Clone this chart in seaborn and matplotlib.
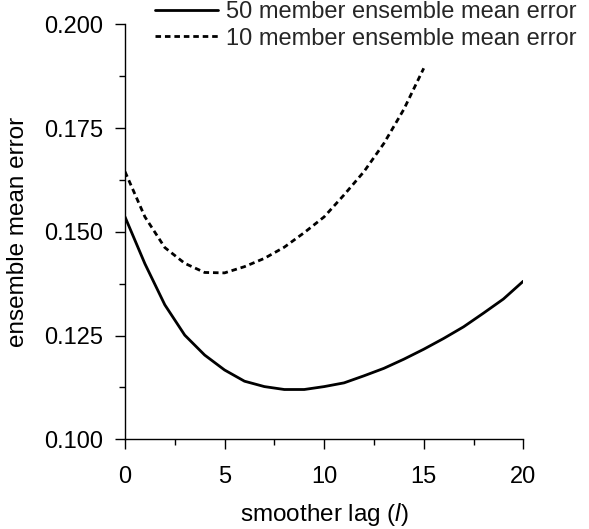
import matplotlib
matplotlib.use("Agg")
import matplotlib.pyplot as plt
import seaborn as sns
import pandas as pd
import numpy as np

# Data
lag50 = list(range(0, 21))
err50 = [0.1536, 0.1423, 0.1324, 0.1251, 0.1203, 0.1167, 0.1140, 0.1127, 0.1120, 0.1120,
         0.1127, 0.1136, 0.1153, 0.1171, 0.1193, 0.1217, 0.1243, 0.1271, 0.1304, 0.1338, 0.1381]
lag10 = list(range(0, 16))
err10 = [0.1645, 0.1536, 0.1462, 0.1424, 0.1402, 0.1401, 0.1416, 0.1436, 0.1463, 0.1498,
         0.1536, 0.1589, 0.1645, 0.1713, 0.1795, 0.1894]
label50 = "50 member ensemble mean error"
label10 = "10 member ensemble mean error"
xticks = [0, 5, 10, 15, 20]
yticks = [0.100, 0.125, 0.150, 0.175, 0.200]

sns.set_theme(style="ticks")
plt.rcParams["font.family"] = ["Liberation Sans", "DejaVu Sans"]
plt.rcParams["mathtext.fontset"] = "custom"
plt.rcParams["mathtext.rm"] = "Liberation Sans"
plt.rcParams["mathtext.it"] = "Liberation Sans:italic"

df = pd.concat([
    pd.DataFrame({"lag": lag50, "err": err50, "series": label50}),
    pd.DataFrame({"lag": lag10, "err": err10, "series": label10}),
])

fig = plt.figure(figsize=(5.89, 5.29), dpi=100)
ax = fig.add_axes([125 / 589, 1 - 439.3 / 529, (523.3 - 125) / 589, (439.3 - 24.3) / 529])

sns.lineplot(data=df, x="lag", y="err", hue="series", style="series",
             palette={label50: "black", label10: "black"},
             dashes={label50: "", label10: (2.0, 1.4)},
             linewidth=2.0, ax=ax, legend=True)

ax.set_xlim(0, 20)
ax.set_ylim(0.1, 0.2)
ax.set_xticks(xticks)
ax.set_yticks(yticks)
ax.set_yticklabels([f"{v:.3f}" for v in yticks])
ax.set_xticks([2.5, 7.5, 12.5, 17.5], minor=True)
ax.set_yticks([0.1125, 0.1375, 0.1625, 0.1875], minor=True)
ax.tick_params(axis="both", which="major", direction="out", length=7.5, width=1.0,
               labelsize=17, color="black", labelcolor="black")
ax.tick_params(axis="both", which="minor", direction="out", length=4, width=1.0, color="black")
ax.tick_params(axis="y", which="major", pad=8)
ax.tick_params(axis="x", which="major", pad=12)
for s in ["top", "right"]:
    ax.spines[s].set_visible(False)
for s in ["left", "bottom"]:
    ax.spines[s].set_color("black")
    ax.spines[s].set_linewidth(1.0)

ax.set_xlabel(r"smoother lag ($\mathit{l}$)", fontsize=17.5, color="black", labelpad=9)
ax.set_ylabel("ensemble mean error", fontsize=17.5, color="black", labelpad=11)

handles, labels = ax.get_legend_handles_labels()
ax.legend(handles, labels, loc="upper left", bbox_to_anchor=(155 / 589, 1 - 1.0 / 529),
          bbox_transform=fig.transFigure, frameon=False, fontsize=17,
          borderaxespad=0, borderpad=0, handlelength=2.67, handletextpad=0.34,
          labelspacing=0.2)

fig.savefig("out.png", dpi=100)
